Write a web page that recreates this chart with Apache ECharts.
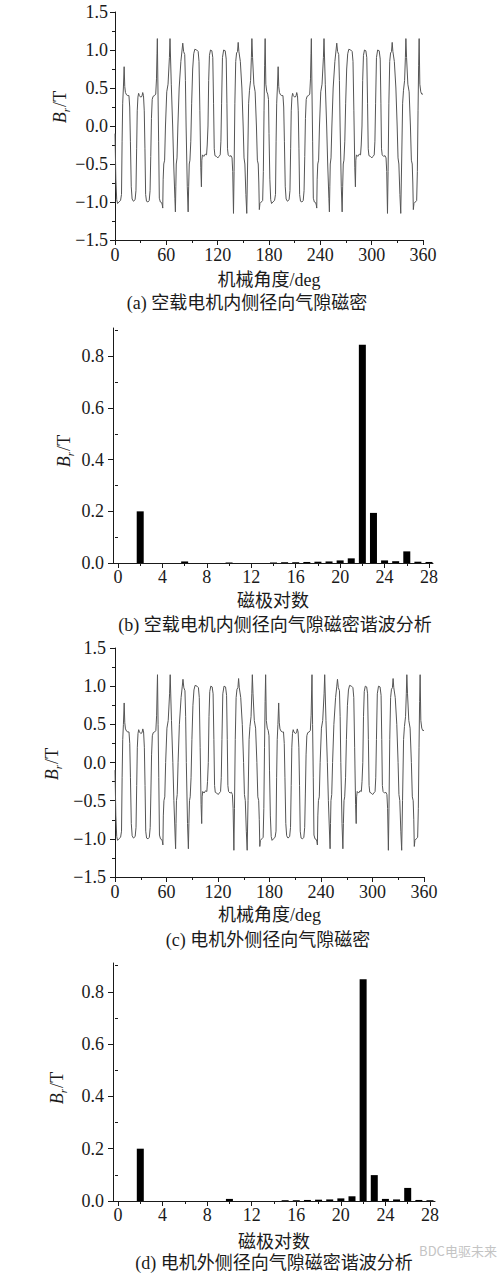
<!DOCTYPE html>
<html><head><meta charset="utf-8">
<script src="https://cdn.jsdelivr.net/npm/echarts@6.0.0/dist/echarts.min.js"></script>
<style>html,body{margin:0;padding:0;background:#fff}#c{width:502px;height:1280px}</style>
</head><body><div id="c"></div>
<script>
// ---- data ----
// (a)/(c) radial air-gap flux density vs mechanical angle: [angle deg, Br T]
const innerWave = [[0,-0.1],[1,-0.7],[2,-0.97],[3,-1.02],[4.5,-1.0],[6.5,-0.98],[7.6,-0.9],[8.3,-0.2],[9,0.3],[9.8,0.5],[10.7,0.78],[11.4,0.52],[12.2,0.44],[13.5,0.41],[15,0.4],[16.3,0.4],[17.2,0.25],[18,-0.2],[19,-0.8],[20,-0.96],[21.5,-0.99],[23.5,-0.97],[24.5,-0.85],[25.3,-0.3],[26,0.2],[26.8,0.38],[27.6,0.43],[28.5,0.4],[30,0.38],[31.5,0.39],[32.4,0.44],[33.3,0.4],[34.2,0.2],[35,-0.3],[35.8,-0.9],[36.8,-0.99],[38.5,-1.0],[40,-0.98],[41,-0.85],[41.8,-0.4],[42.6,0.1],[43.5,0.35],[44.5,0.39],[46.2,0.4],[47.6,0.42],[48.5,0.62],[49.1,0.95],[49.5,1.15],[50.2,0.5],[51,-0.2],[51.8,-0.95],[53,-1.0],[54.6,-1.01],[55.3,-1.04],[55.8,-1.08],[56.3,-0.7],[57,-0.5],[58,-0.45],[59,0.0],[60.5,0.45],[62,0.55],[63.6,0.9],[64.3,1.15],[65.8,0.55],[67.4,0.0],[68.6,-0.5],[70,-0.95],[70.6,-1.13],[71.1,-0.8],[71.6,-0.5],[72.5,-0.42],[73.5,0.0],[75,0.5],[77,0.85],[78.4,1.0],[79.2,1.09],[80.2,0.98],[81.5,0.94],[82.3,0.6],[83.1,0.0],[84.5,-0.8],[85.5,-1.13],[86.1,-0.8],[86.8,-0.5],[87.6,-0.45],[88.6,-0.2],[89.6,0.3],[90.8,0.75],[92,0.95],[93.3,1.01],[95.5,1.0],[97.2,0.98],[98.2,0.85],[99.2,0.2],[100.3,-0.55],[101,-0.8],[101.5,-0.45],[102.2,-0.38],[103.8,-0.4],[105.5,-0.37],[107,-0.38],[107.8,-0.25],[108.7,0.0],[109.5,0.6],[110.4,0.93],[111.6,1.0],[113.2,0.99],[114.3,0.9],[115.2,0.3],[116,-0.3],[116.8,-0.39],[118.5,-0.4],[120.2,-0.42],[121.5,-0.4],[123,-0.38],[123.8,-0.2],[124.6,0.3],[125.6,0.9],[127,1.0],[128.8,0.99],[130,0.88],[130.8,0.3],[131.5,-0.3],[132.3,-0.38],[134,-0.4],[135.6,-0.39],[136.8,-0.42],[137.6,-0.6],[138.5,-1.15],[139.2,-0.6],[140.1,0.3],[141.1,0.85],[142.1,0.96],[143.2,0.98],[144,1.1],[144.8,0.98],[146.5,0.85],[148.3,0.5],[149.8,0.0],[150.8,-0.42],[151.8,-0.5],[153,-0.9],[154,-1.15],[155,-0.5],[156.2,0.3],[157.2,0.47],[158.5,0.6],[159.4,0.9],[160,1.15],[160.8,0.9],[162.3,0.55],[163.8,0.45],[165.3,0.0],[166.4,-0.45],[167.4,-0.5],[168.1,-0.75],[168.7,-1.1],[169.4,-1.02],[171,-1.0],[172.6,-0.98],[173.4,-0.6],[174.2,0.2],[174.9,0.8],[175.5,1.15],[176.3,0.55],[177.4,0.45],[178.5,0.42],[179.4,0.35],
[180,-0.1],[181,-0.7],[182,-0.97],[183,-1.02],[184.5,-1.0],[186.5,-0.98],[187.6,-0.9],[188.3,-0.2],[189,0.3],[189.8,0.5],[190.7,0.78],[191.4,0.52],[192.2,0.44],[193.5,0.41],[195,0.4],[196.3,0.4],[197.2,0.25],[198,-0.2],[199,-0.8],[200,-0.96],[201.5,-0.99],[203.5,-0.97],[204.5,-0.85],[205.3,-0.3],[206,0.2],[206.8,0.38],[207.6,0.43],[208.5,0.4],[210,0.38],[211.5,0.39],[212.4,0.44],[213.3,0.4],[214.2,0.2],[215,-0.3],[215.8,-0.9],[216.8,-0.99],[218.5,-1.0],[220,-0.98],[221,-0.85],[221.8,-0.4],[222.6,0.1],[223.5,0.35],[224.5,0.39],[226.2,0.4],[227.6,0.42],[228.5,0.62],[229.1,0.95],[229.5,1.15],[230.2,0.5],[231,-0.2],[231.8,-0.95],[233,-1.0],[234.6,-1.01],[235.3,-1.04],[235.8,-1.08],[236.3,-0.7],[237,-0.5],[238,-0.45],[239,0.0],[240.5,0.45],[242,0.55],[243.6,0.9],[244.3,1.15],[245.8,0.55],[247.4,0.0],[248.6,-0.5],[250,-0.95],[250.6,-1.13],[251.1,-0.8],[251.6,-0.5],[252.5,-0.42],[253.5,0.0],[255,0.5],[257,0.85],[258.4,1.0],[259.2,1.09],[260.2,0.98],[261.5,0.94],[262.3,0.6],[263.1,0.0],[264.5,-0.8],[265.5,-1.13],[266.1,-0.8],[266.8,-0.5],[267.6,-0.45],[268.6,-0.2],[269.6,0.3],[270.8,0.75],[272,0.95],[273.3,1.01],[275.5,1.0],[277.2,0.98],[278.2,0.85],[279.2,0.2],[280.3,-0.55],[281,-0.8],[281.5,-0.45],[282.2,-0.38],[283.8,-0.4],[285.5,-0.37],[287,-0.38],[287.8,-0.25],[288.7,0.0],[289.5,0.6],[290.4,0.93],[291.6,1.0],[293.2,0.99],[294.3,0.9],[295.2,0.3],[296,-0.3],[296.8,-0.39],[298.5,-0.4],[300.2,-0.42],[301.5,-0.4],[303,-0.38],[303.8,-0.2],[304.6,0.3],[305.6,0.9],[307,1.0],[308.8,0.99],[310,0.88],[310.8,0.3],[311.5,-0.3],[312.3,-0.38],[314,-0.4],[315.6,-0.39],[316.8,-0.42],[317.6,-0.6],[318.5,-1.15],[319.2,-0.6],[320.1,0.3],[321.1,0.85],[322.1,0.96],[323.2,0.98],[324,1.1],[324.8,0.98],[326.5,0.85],[328.3,0.5],[329.8,0.0],[330.8,-0.42],[331.8,-0.5],[333,-0.9],[334,-1.15],[335,-0.5],[336.2,0.3],[337.2,0.47],[338.5,0.6],[339.4,0.9],[340,1.15],[340.8,0.9],[342.3,0.55],[343.8,0.45],[345.3,0.0],[346.4,-0.45],[347.4,-0.5],[348.1,-0.75],[348.7,-1.1],[349.4,-1.02],[351,-1.0],[352.6,-0.98],[353.4,-0.6],[354.2,0.2],[354.9,0.8],[355.5,1.15],[356.3,0.55],[357.4,0.45],[358.5,0.42],[360,0.42]];
// (c) outer-side waveform reads the same as (a) in the reference
const outerWave = innerWave;

// (b) harmonic spectrum, inner side
const innerOrders = [2, 6, 10, 14, 15, 16, 17, 18, 19, 20, 21, 22, 23, 24, 25, 26, 27, 28];
const innerAmps   = [0.2, 0.006, 0.002, 0.002, 0.003, 0.003, 0.004, 0.005, 0.006, 0.01, 0.018, 0.845, 0.194, 0.01, 0.007, 0.045, 0.005, 0.004];
// (d) harmonic spectrum, outer side
const outerOrders = [2, 10, 15, 16, 17, 18, 19, 20, 21, 22, 23, 24, 25, 26, 27, 28];
const outerAmps   = [0.2, 0.008, 0.003, 0.003, 0.004, 0.005, 0.006, 0.01, 0.018, 0.848, 0.099, 0.008, 0.006, 0.05, 0.004, 0.003];

// tick labels
const orderMajorTicks = [0, 4, 8, 12, 16, 20, 24, 28];
const orderMinorTicks = [2, 6, 10, 14, 18, 22, 26];
const ampMajorTicks = [0, 0.2, 0.4, 0.6, 0.8];
const ampMinorTicks = [0.1, 0.3, 0.5, 0.7, 0.9];

// text
const captions = ['(a) 空载电机内侧径向气隙磁密', '(b) 空载电机内侧径向气隙磁密谐波分析', '(c) 电机外侧径向气隙磁密', '(d) 电机外侧径向气隙磁密谐波分析'];
const angleName = '机械角度/deg';
const orderName = '磁极对数';
const watermark = 'BDC电驱未来';

// ---- chart ----
const serif = "'Liberation Serif','Times New Roman',serif";
const mixed = "'Liberation Serif','Noto Sans CJK SC',serif";
const ink = '#1a1a1a';
const lineSt = {color: ink, width: 1};
function fmt1(v){ const s = Math.abs(v).toFixed(1); return v < -1e-9 ? '\u2212' + s : s; }

function waveX(gi, gap){
  return {gridIndex: gi, type: 'value', min: 0, max: 360, interval: 60,
    axisLine: {show: true, onZero: false, lineStyle: lineSt},
    axisTick: {show: true, length: 5, lineStyle: lineSt},
    minorTick: {show: true, splitNumber: 2, length: 3, lineStyle: lineSt},
    splitLine: {show: false}, minorSplitLine: {show: false},
    axisLabel: {fontFamily: serif, fontSize: 18, color: ink, margin: 6},
    name: angleName, nameLocation: 'middle', nameGap: gap,
    nameTextStyle: {fontFamily: mixed, fontSize: 18, color: ink}};
}
function waveY(gi, margin){
  return {gridIndex: gi, type: 'value', min: -1.5, max: 1.5, interval: 0.5,
    axisLine: {show: true, onZero: false, lineStyle: lineSt},
    axisTick: {show: true, length: 5, lineStyle: lineSt},
    minorTick: {show: true, splitNumber: 2, length: 3, lineStyle: lineSt},
    splitLine: {show: false}, minorSplitLine: {show: false},
    axisLabel: {fontFamily: serif, fontSize: 18, color: ink, margin: margin, formatter: fmt1}};
}
function barX(gi, max, gap){
  return {gridIndex: gi, type: 'value', min: -0.45, max: max,
    axisLine: {show: true, onZero: false, lineStyle: lineSt},
    axisTick: {show: true, length: 5, lineStyle: lineSt, customValues: orderMajorTicks},
    splitLine: {show: false},
    axisLabel: {fontFamily: serif, fontSize: 18, color: ink, margin: 5, customValues: orderMajorTicks},
    name: orderName, nameLocation: 'middle', nameGap: gap,
    nameTextStyle: {fontFamily: mixed, fontSize: 18, color: ink}};
}
function barXMinor(gi, max){
  return {gridIndex: gi, type: 'value', min: -0.45, max: max, position: 'bottom',
    axisLine: {show: false}, splitLine: {show: false}, axisLabel: {show: false},
    axisTick: {show: true, length: 3, lineStyle: lineSt, customValues: orderMinorTicks}};
}
function barY(gi){
  return {gridIndex: gi, type: 'value', min: 0, max: 0.91,
    axisLine: {show: true, onZero: false, lineStyle: lineSt},
    axisTick: {show: true, length: 5, lineStyle: lineSt, customValues: ampMajorTicks},
    splitLine: {show: false},
    axisLabel: {fontFamily: serif, fontSize: 18, color: ink, margin: 9, customValues: ampMajorTicks, formatter: fmt1}};
}
function barYMinor(gi){
  return {gridIndex: gi, type: 'value', min: 0, max: 0.91, position: 'left',
    axisLine: {show: false}, splitLine: {show: false}, axisLabel: {show: false},
    axisTick: {show: true, length: 3, lineStyle: lineSt, customValues: ampMinorTicks}};
}
function yName(x, y){
  return {type: 'text', x: x, y: y, rotation: Math.PI / 2,
    style: {text: '{b|B}{s|r}{n|/T}', align: 'center', verticalAlign: 'middle', fill: ink,
      rich: {
        b: {fontFamily: serif, fontStyle: 'italic', fontSize: 18, fill: ink, lineHeight: 22, verticalAlign: 'middle'},
        s: {fontFamily: serif, fontStyle: 'italic', fontSize: 11, fill: ink, lineHeight: 22, verticalAlign: 'bottom', padding: [8, 1, 0, 0]},
        n: {fontFamily: serif, fontSize: 18, fill: ink, lineHeight: 22, verticalAlign: 'middle'}
      }}};
}
function caption(x, y, t){
  return {type: 'text', x: x, y: y,
    style: {text: t, font: "18px 'Liberation Serif','Noto Sans CJK SC',serif", fill: ink, align: 'center', verticalAlign: 'middle'}};
}

const chart = echarts.init(document.getElementById('c'), null, {renderer: 'svg', width: 502, height: 1280});
chart.setOption({
  animation: false,
  backgroundColor: '#fff',
  grid: [
    {left: 115, top: 12, width: 308, height: 228},
    {left: 113, top: 328, width: 320, height: 235},
    {left: 115, top: 648, width: 309, height: 229},
    {left: 113, top: 963, width: 322, height: 238}
  ],
  xAxis: [waveX(0, 31), barX(1, 28.36, 29), barXMinor(1, 28.36), waveX(2, 29), barX(3, 28.45, 32), barXMinor(3, 28.45)],
  yAxis: [waveY(0, 7), barY(1), barYMinor(1), waveY(2, 9), barY(3), barYMinor(3)],
  series: [
    {type: 'line', xAxisIndex: 0, yAxisIndex: 0, data: innerWave, showSymbol: false, symbol: 'none',
      lineStyle: {color: '#555', width: 1}},
    {type: 'bar', xAxisIndex: 1, yAxisIndex: 1, data: innerOrders.map((o, i) => [o, innerAmps[i]]),
      barWidth: 7, itemStyle: {color: '#000'}},
    {type: 'line', xAxisIndex: 3, yAxisIndex: 3, data: outerWave, showSymbol: false, symbol: 'none',
      lineStyle: {color: '#555', width: 1}},
    {type: 'bar', xAxisIndex: 4, yAxisIndex: 4, data: outerOrders.map((o, i) => [o, outerAmps[i]]),
      barWidth: 7, itemStyle: {color: '#000'}}
  ],
  graphic: [
    yName(60, 107), yName(64, 451), yName(52, 764), yName(57, 1088),
    caption(247, 303, captions[0]), caption(275, 625, captions[1]),
    caption(268, 940, captions[2]), caption(274, 1263, captions[3]),
    {type: 'text', x: 458, y: 1250, style: {text: watermark, font: "13px 'Noto Sans CJK SC',sans-serif", fill: '#c4c4c4', align: 'center', verticalAlign: 'middle'}}
  ]
});
</script></body></html>
